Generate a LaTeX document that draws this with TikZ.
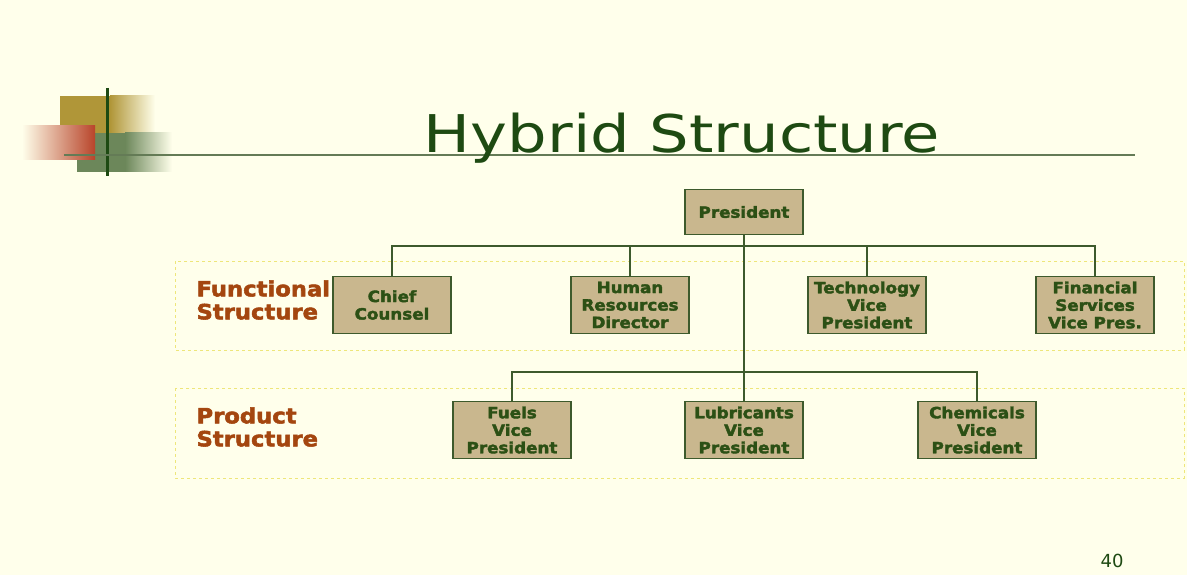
\documentclass[tikz,border=0pt]{standalone}
\usepackage{fontspec}
\setmainfont{DejaVu Sans}
\newfontfamily\boxfont{DejaVu Sans}[FakeBold=2.5, FakeStretch=1.08]
\newfontfamily\titlefont{DejaVu Sans}[FakeStretch=1.2]
\usetikzlibrary{positioning}

\definecolor{pagebg}{HTML}{FFFFEB}
\definecolor{boxfill}{HTML}{C9B78E}
\definecolor{boxline}{HTML}{3D5A2C}
\definecolor{boxtext}{HTML}{2C5015}
\definecolor{titlegreen}{HTML}{1E4A12}
\definecolor{labelbrown}{HTML}{A4460F}
\definecolor{dashyellow}{HTML}{EEE67A}
\definecolor{decogold}{HTML}{B09638}
\definecolor{decored}{HTML}{B8442A}
\definecolor{decogreen}{HTML}{6C875A}

\begin{document}
\begin{tikzpicture}[x=1pt, y=-1pt,
  orgbox/.style={rectangle, draw=boxline, line width=1.3pt, fill=boxfill,
    minimum width=118pt, minimum height=57pt, inner sep=1pt, align=center,
    text=boxtext, font=\boxfont\bfseries\fontsize{15.5}{17.5}\selectfont},
  grouplabel/.style={anchor=west, align=left, text=labelbrown,
    font=\boxfont\bfseries\fontsize{21}{23}\selectfont},
  groupframe/.style={draw=dashyellow, dashed, line width=1pt},
  link/.style={draw=boxline, line width=1.3pt}]
  \useasboundingbox[fill=pagebg] (0,0) rectangle (1187,575);
  % Corner decoration
  \fill[decogold] (60,96) rectangle (110,133);
  \shade[left color=decogold, right color=pagebg] (110,96) rectangle (155,133);
  \fill[decogreen] (77,133) rectangle (125,172);
  \shade[left color=decogreen, right color=pagebg] (125,133) rectangle (172,172);
  \shade[shading angle=60, left color=pagebg, right color=decored] (22,126) rectangle (95,160);
  \draw[titlegreen, line width=3pt] (107,88) -- (107,176);
  \draw[boxline!80, line width=2pt] (64,155) -- (1135,155);
  % Title
  \node (title) [anchor=base, text=titlegreen, font=\titlefont\fontsize{52}{60}\selectfont] at (682,153) {Hybrid Structure};
  % Group frames
  \draw[groupframe] (175,261) rectangle (1184,350);
  \draw[groupframe] (175,388) rectangle (1184,478);
  \node (funclbl) [grouplabel] at (193,300) {Functional\\Structure};
  \node (prodlbl) [grouplabel] at (193,427) {Product\\Structure};
  % Nodes
  \node (pres) [orgbox, minimum height=45pt] at (744,212) {President};
  \node (counsel) [orgbox] at (392,305) {Chief\\Counsel};
  \node (hr) [orgbox] at (630,305) {Human\\Resources\\Director};
  \node (tech) [orgbox] at (867,305) {Technology\\Vice\\President};
  \node (fin) [orgbox] at (1095,305) {Financial\\Services\\Vice Pres.};
  \node (fuels) [orgbox] at (512,430) {Fuels\\Vice\\President};
  \node (lub) [orgbox] at (744,430) {Lubricants\\Vice\\President};
  \node (chem) [orgbox] at (977,430) {Chemicals\\Vice\\President};
  \coordinate (funcbus) at (744,246);
  \coordinate (prodbus) at (744,372);
  % Connectors
  \draw[link] (pres.south) -- (lub.north);
  \draw[link] (counsel.north) |- (funcbus) -| (fin.north);
  \draw[link] (hr.north) -- (hr.north |- funcbus);
  \draw[link] (tech.north) -- (tech.north |- funcbus);
  \draw[link] (fuels.north) |- (prodbus) -| (chem.north);
  % Page number
  \node (pagenum) [text=titlegreen, font=\fontsize{18}{20}\selectfont] at (1112,561) {40};
\end{tikzpicture}
\end{document}
